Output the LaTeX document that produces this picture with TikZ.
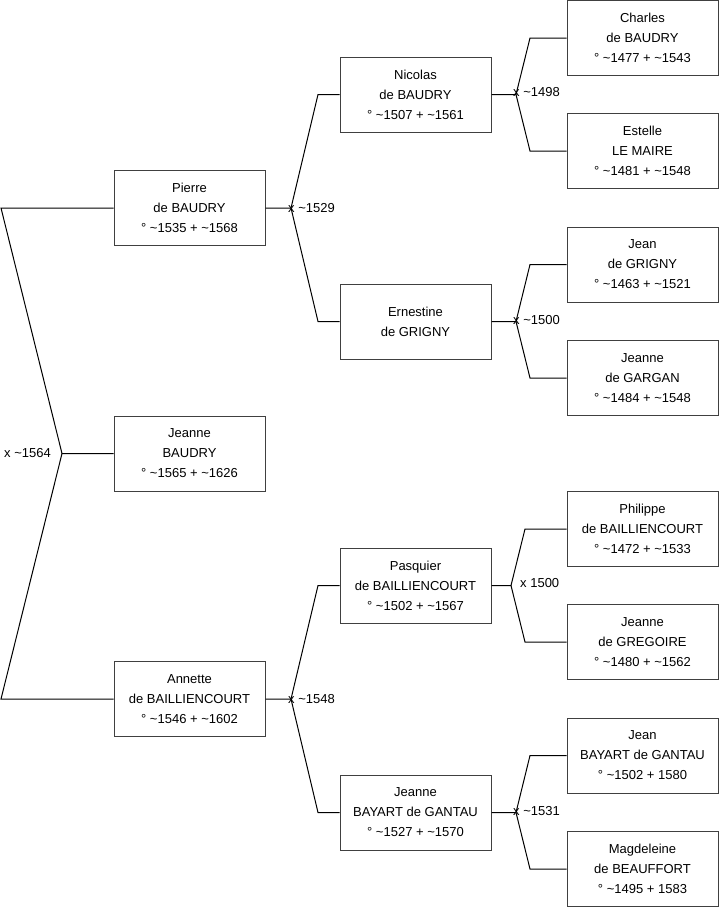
\documentclass[tikz,border=0pt]{standalone}
\usepackage{fontspec}
\setmainfont{Liberation Sans}
\newcommand\mytl{\textasciitilde}
\definecolor{boxgray}{HTML}{404040}
\begin{document}
\begin{tikzpicture}[x=1pt,y=-1pt,
  person/.style={draw=boxgray, fill=white, line width=1pt, minimum width=151pt, minimum height=75pt,
    align=center, font=\fontsize{13}{20}\selectfont, inner sep=0pt},
  link/.style={draw=black, line width=1pt},
  lbl/.style={font=\fontsize{13}{16}\selectfont, inner sep=0pt}]
\useasboundingbox (0,0) rectangle (719,908);

% generation 1
\node[person] (pierre) at (189.5,208) {Pierre\\de BAUDRY\\° \mytl1535 + \mytl1568};
\node[person] (jeanne) at (189.5,453.5) {Jeanne\\BAUDRY\\° \mytl1565 + \mytl1626};
\node[person] (annette) at (189.5,699) {Annette\\de BAILLIENCOURT\\° \mytl1546 + \mytl1602};

% generation 2
\node[person] (nicolas) at (415.5,94.5) {Nicolas\\de BAUDRY\\° \mytl1507 + \mytl1561};
\node[person] (ernestine) at (415.5,321.5) {Ernestine\\de GRIGNY};
\node[person] (pasquier) at (415.5,585.5) {Pasquier\\de BAILLIENCOURT\\° \mytl1502 + \mytl1567};
\node[person] (jbayart) at (415.5,812.5) {Jeanne\\BAYART de GANTAU\\° \mytl1527 + \mytl1570};

% generation 3
\node[person] (charles) at (642.5,38) {Charles\\de BAUDRY\\° \mytl1477 + \mytl1543};
\node[person] (estelle) at (642.5,151) {Estelle\\LE MAIRE\\° \mytl1481 + \mytl1548};
\node[person] (jgrigny) at (642.5,264.5) {Jean\\de GRIGNY\\° \mytl1463 + \mytl1521};
\node[person] (jgargan) at (642.5,378) {Jeanne\\de GARGAN\\° \mytl1484 + \mytl1548};
\node[person] (philippe) at (642.5,529) {Philippe\\de BAILLIENCOURT\\° \mytl1472 + \mytl1533};
\node[person] (jgregoire) at (642.5,642) {Jeanne\\de GREGOIRE\\° \mytl1480 + \mytl1562};
\node[person] (jeanbayart) at (642.5,755.5) {Jean\\BAYART de GANTAU\\° \mytl1502 + 1580};
\node[person] (magdeleine) at (642.5,869) {Magdeleine\\de BEAUFFORT\\° \mytl1495 + 1583};

% level 1 fork
\coordinate (f0) at (62,453.5);
\coordinate (f0a) at (1,208);
\coordinate (f0b) at (1,699);
\draw[link] (pierre.west) -- (f0a) -- (f0) -- (jeanne.west);
\draw[link] (f0) -- (f0b) -- (annette.west);
\node[lbl, anchor=east] at (51,453.5) {x \mytl1564};

% level 2 forks
\coordinate (f1) at (291,208);
\coordinate (f1a) at (318,94.5);
\coordinate (f1b) at (318,321.5);
\draw[link] (pierre.east) -- (f1) -- (f1a) -- (nicolas.west);
\draw[link] (f1) -- (f1b) -- (ernestine.west);
\node[lbl, anchor=west] at (288,208) {x \mytl1529};

\coordinate (f2) at (291,699);
\coordinate (f2a) at (318,585.5);
\coordinate (f2b) at (318,812.5);
\draw[link] (annette.east) -- (f2) -- (f2a) -- (pasquier.west);
\draw[link] (f2) -- (f2b) -- (jbayart.west);
\node[lbl, anchor=west] at (288,699) {x \mytl1548};

% level 3 forks
\coordinate (g1) at (516,94.5);
\coordinate (g1a) at (530,38);
\coordinate (g1b) at (530,151);
\draw[link] (nicolas.east) -- (g1) -- (g1a) -- (charles.west);
\draw[link] (g1) -- (g1b) -- (estelle.west);
\node[lbl, anchor=west] at (513,92) {x \mytl1498};

\coordinate (g2) at (516,321.5);
\coordinate (g2a) at (530,264.5);
\coordinate (g2b) at (530,378);
\draw[link] (ernestine.east) -- (g2) -- (g2a) -- (jgrigny.west);
\draw[link] (g2) -- (g2b) -- (jgargan.west);
\node[lbl, anchor=west] at (513,320) {x \mytl1500};

\coordinate (g3) at (511,585.5);
\coordinate (g3a) at (525,529);
\coordinate (g3b) at (525,642);
\draw[link] (pasquier.east) -- (g3) -- (g3a) -- (philippe.west);
\draw[link] (g3) -- (g3b) -- (jgregoire.west);
\node[lbl, anchor=west] at (520,583) {x 1500};

\coordinate (g4) at (516,812.5);
\coordinate (g4a) at (530,755.5);
\coordinate (g4b) at (530,869);
\draw[link] (jbayart.east) -- (g4) -- (g4a) -- (jeanbayart.west);
\draw[link] (g4) -- (g4b) -- (magdeleine.west);
\node[lbl, anchor=west] at (513,811) {x \mytl1531};
\end{tikzpicture}
\end{document}
